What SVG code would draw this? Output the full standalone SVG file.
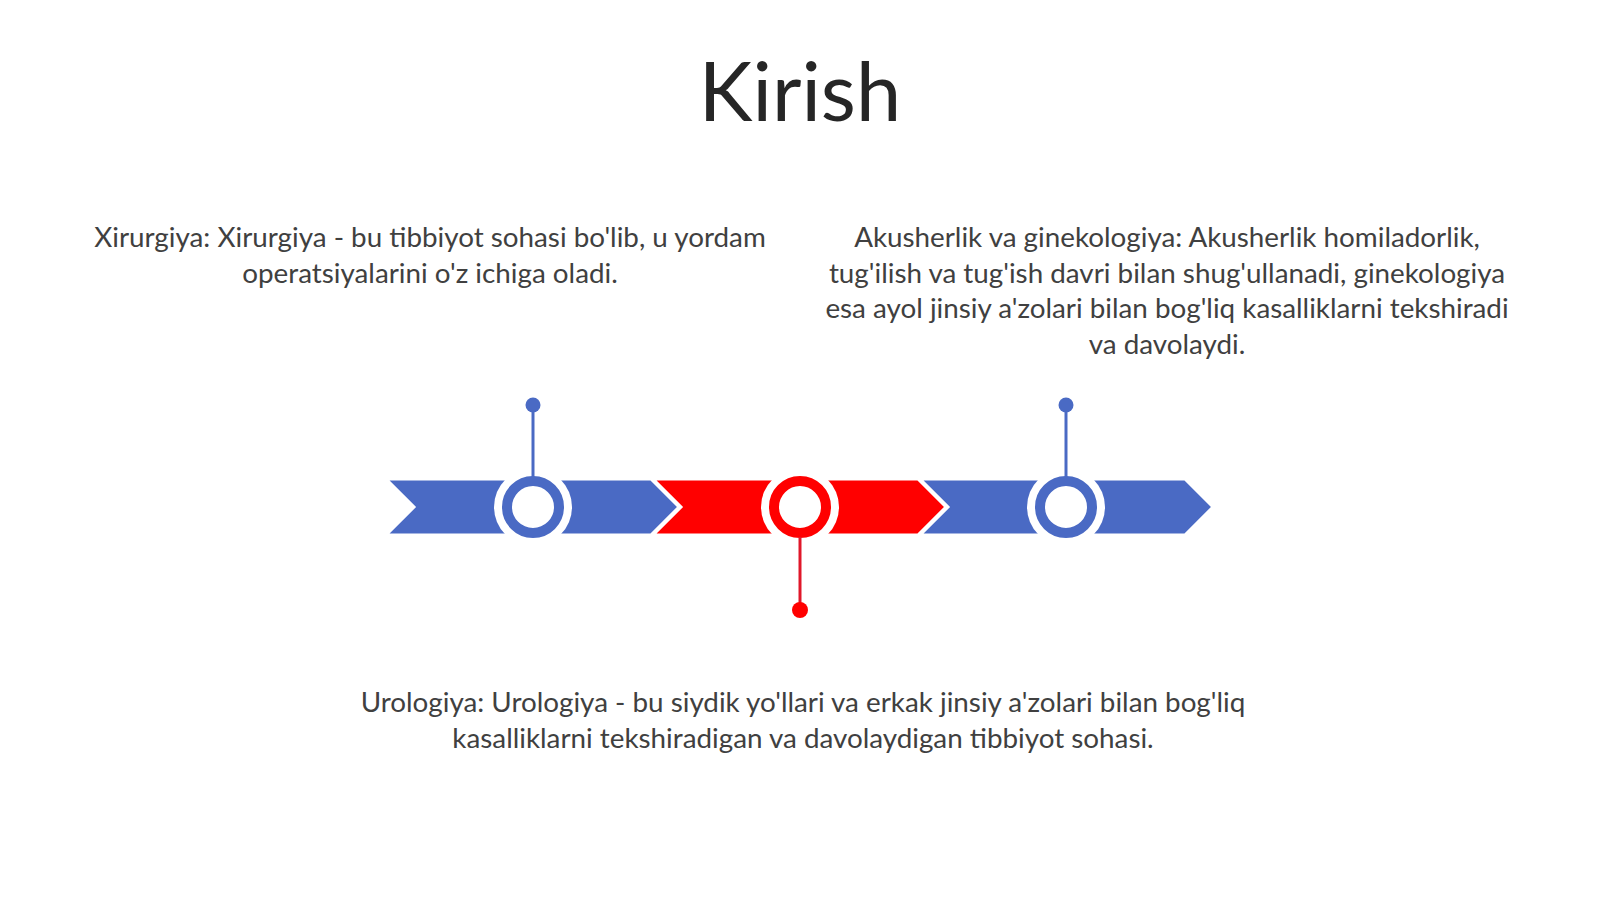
<svg xmlns="http://www.w3.org/2000/svg" width="1600" height="899" viewBox="0 0 1600 899">
<style>
.t{font-family:"Lato","Liberation Sans",sans-serif;font-size:27.8px;fill:#404040;text-anchor:middle}
.title{font-family:"Lato","Liberation Sans",sans-serif;font-size:81px;fill:#262626;text-anchor:middle}
.cb{fill:#4a6ac4;stroke:#fff;stroke-width:3}
.cr{fill:#ff0000;stroke:#fff;stroke-width:3}
</style>
<rect width="1600" height="899" fill="#fff"/>
<text class="title" x="800" y="121">Kirish</text>
<g id="txt-left">
<text class="t" x="430" y="247">Xirurgiya: Xirurgiya - bu tibbiyot sohasi bo'lib, u yordam</text>
<text class="t" x="430" y="283">operatsiyalarini o'z ichiga oladi.</text>
</g>
<g id="txt-right">
<text class="t" x="1167" y="247">Akusherlik va ginekologiya: Akusherlik homiladorlik,</text>
<text class="t" x="1167" y="283">tug'ilish va tug'ish davri bilan shug'ullanadi, ginekologiya</text>
<text class="t" x="1167" y="318">esa ayol jinsiy a'zolari bilan bog'liq kasalliklarni tekshiradi</text>
<text class="t" x="1167" y="354">va davolaydi.</text>
</g>
<g id="txt-bottom">
<text class="t" x="803" y="712">Urologiya: Urologiya - bu siydik yo'llari va erkak jinsiy a'zolari bilan bog'liq</text>
<text class="t" x="803" y="748">kasalliklarni tekshiradigan va davolaydigan tibbiyot sohasi.</text>
</g>
<g id="chevron1"><polygon class="cb" points="386,479 651,479 679,507 651,535 386,535 414,507"/></g>
<g id="chevron2"><polygon class="cr" points="653,479 918,479 946,507 918,535 653,535 681,507"/></g>
<g id="chevron3"><polygon class="cb" points="920,479 1185,479 1213,507 1185,535 920,535 948,507"/></g>
<g id="node1"><circle cx="533" cy="507" r="39" fill="#fff"/><circle cx="533" cy="507" r="26" fill="#fff" stroke="#4a6ac4" stroke-width="10"/></g>
<g id="node2"><circle cx="800" cy="507" r="39" fill="#fff"/><circle cx="800" cy="507" r="26" fill="#fff" stroke="#ff0000" stroke-width="10"/></g>
<g id="node3"><circle cx="1066" cy="507" r="39" fill="#fff"/><circle cx="1066" cy="507" r="26" fill="#fff" stroke="#4a6ac4" stroke-width="10"/></g>
<g id="connectors">
<line x1="533" y1="405" x2="533" y2="477" stroke="#4a6ac4" stroke-width="3"/>
<line x1="1066" y1="405" x2="1066" y2="477" stroke="#4a6ac4" stroke-width="3"/>
<line x1="800" y1="537" x2="800" y2="610" stroke="#e0182a" stroke-width="3"/>
<circle cx="533" cy="405" r="7.5" fill="#4a6ac4"/>
<circle cx="1066" cy="405" r="7.5" fill="#4a6ac4"/>
<circle cx="800" cy="610" r="8" fill="#ff0000"/>
</g>
</svg>
